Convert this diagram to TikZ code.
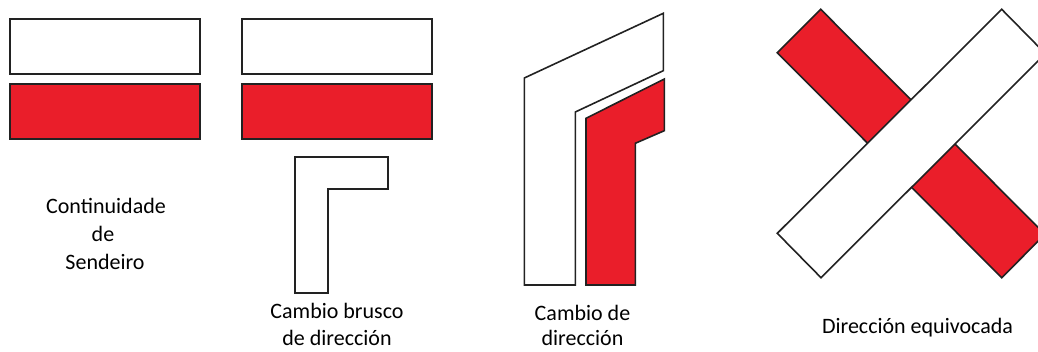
\documentclass[tikz,border=0pt]{standalone}
\usepackage{fontspec}
\setmainfont{Carlito}
\definecolor{markred}{RGB}{234,30,42}
\definecolor{edge}{RGB}{34,34,34}
\tikzset{
  whitemark/.style={draw=edge, line width=1.6pt, fill=white, line join=miter},
  redmark/.style={draw=edge, line width=1.6pt, fill=markred, line join=miter},
  lbl/.style={anchor=base, inner sep=0pt, font=\fontsize{22pt}{28pt}\selectfont, text=black}
}
\begin{document}
\begin{tikzpicture}[x=1pt,y=-1pt]
\useasboundingbox (0,0) rectangle (1038,351);
% Continuidade de Sendeiro
\draw[whitemark] (10,19) rectangle (200,74);
\draw[redmark] (10,84) rectangle (200,139);
\node[lbl] (t1a) at (106,213) {Continuidade};
\node[lbl] (t1b) at (103,241.5) {de};
\node[lbl] (t1c) at (105,269) {Sendeiro};
% Cambio brusco de direccion
\draw[whitemark] (242,19) rectangle (432,74);
\draw[redmark] (242,84) rectangle (432,139);
\draw[whitemark] (295,157) -- (388,157) -- (388,189) -- (328,189) -- (328,293) -- (295,293) -- cycle;
\node[lbl] (t2a) at (337,318) {Cambio brusco};
\node[lbl] (t2b) at (337,345.5) {de dirección};
% Cambio de direccion
\draw[whitemark] (524.3,78) -- (663.3,13.3) -- (663.3,70.7) -- (575.3,112) -- (575.3,285) -- (524.3,285) -- cycle;
\draw[redmark] (586,118.3) -- (664.3,79) -- (664.3,130.7) -- (635.3,143.3) -- (635.3,285) -- (586,285) -- cycle;
\node[lbl] (t3a) at (582.5,320) {Cambio de};
\node[lbl] (t3b) at (582.5,345.5) {dirección};
% Direccion equivocada
\begin{scope}
\clip (0,0) rectangle (1038,351);
\draw[redmark] (820.7,9.3) -- (777.3,52.7) -- (1001.7,277.7) -- (1045,234.3) -- cycle;
\draw[whitemark] (777.3,233.3) -- (821,277.7) -- (1045.4,53.7) -- (1001.7,9.3) -- cycle;
\end{scope}
\node[lbl] (t4) at (917.5,333) {Dirección equivocada};
\end{tikzpicture}
\end{document}
